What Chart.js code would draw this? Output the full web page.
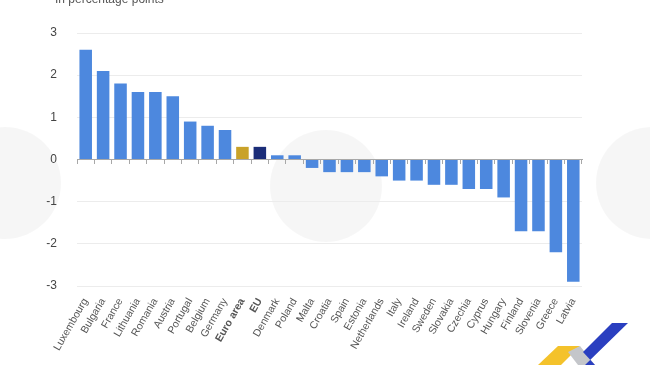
<!DOCTYPE html>
<html>
<head>
<meta charset="utf-8">
<script src="https://cdn.jsdelivr.net/npm/chart.js@4"></script>
<style>
  html, body { margin: 0; padding: 0; background: #fff; }
  #wrap { position: relative; width: 650px; height: 365px; overflow: hidden; }
  #note { position: absolute; left: 55px; top: -8px; font: 12px "Liberation Sans", Arial, sans-serif; color: #555; }
</style>
</head>
<body>
<div id="wrap">
  <canvas id="chart" width="650" height="365"></canvas>
  <div id="note">In percentage points</div>
</div>
<script>
// data
const countries = ['Luxembourg', 'Bulgaria', 'France', 'Lithuania', 'Romania', 'Austria', 'Portugal', 'Belgium',
  'Germany', 'Euro area', 'EU', 'Denmark', 'Poland', 'Malta', 'Croatia', 'Spain', 'Estonia', 'Netherlands',
  'Italy', 'Ireland', 'Sweden', 'Slovakia', 'Czechia', 'Cyprus', 'Hungary', 'Finland', 'Slovenia', 'Greece', 'Latvia'];
const change = [2.6, 2.1, 1.8, 1.6, 1.6, 1.5, 0.9, 0.8, 0.7, 0.3, 0.3, 0.1, 0.1, -0.2, -0.3, -0.3, -0.3, -0.4,
  -0.5, -0.5, -0.6, -0.6, -0.7, -0.7, -0.9, -1.7, -1.7, -2.2, -2.9];
const yTicks = [-3, -2, -1, 0, 1, 2, 3];

const barColors = countries.map(c => c === 'Euro area' ? '#c9a229' : c === 'EU' ? '#1b2d78' : '#4d88de');
const isAggregate = i => countries[i] === 'Euro area' || countries[i] === 'EU';

// faint watermark circles + corner logo, purely decorative
const decor = {
  id: 'decor',
  beforeDraw(chart) {
    const ctx = chart.ctx;
    ctx.save();
    ctx.fillStyle = 'rgba(0,0,0,0.035)';
    [[5, 183], [326, 186], [652, 183]].forEach(p => {
      ctx.beginPath();
      ctx.arc(p[0], p[1], 56, 0, Math.PI * 2);
      ctx.fill();
    });
    ctx.restore();
  },
  afterDraw(chart) {
    const ctx = chart.ctx;
    ctx.save();
    ctx.fillStyle = '#f4c22b';
    ctx.beginPath();
    ctx.moveTo(538, 365); ctx.lineTo(558, 346); ctx.lineTo(580, 346); ctx.lineTo(561, 365);
    ctx.closePath(); ctx.fill();
    ctx.fillStyle = '#c4c6ca';
    ctx.beginPath();
    ctx.moveTo(580, 346); ctx.lineTo(595, 365); ctx.lineTo(578, 365); ctx.lineTo(568, 352);
    ctx.closePath(); ctx.fill();
    ctx.fillStyle = '#2a3fc0';
    ctx.beginPath();
    ctx.moveTo(585, 365); ctx.lineTo(628, 323); ctx.lineTo(612, 323); ctx.lineTo(583, 352); ctx.lineTo(595, 365);
    ctx.closePath(); ctx.fill();
    ctx.restore();
  }
};

new Chart(document.getElementById('chart'), {
  type: 'bar',
  data: {
    labels: countries,
    datasets: [{
      data: change,
      backgroundColor: barColors,
      barPercentage: 0.72,
      categoryPercentage: 1
    }]
  },
  options: {
    responsive: false,
    animation: false,
    layout: { padding: { top: 33, right: 68, bottom: 0, left: 0 } },
    plugins: { legend: { display: false }, tooltip: { enabled: false } },
    scales: {
      x: {
        offset: true,
        grid: { display: false },
        border: { display: false },
        ticks: {
          autoSkip: false,
          minRotation: 60,
          maxRotation: 60,
          padding: 2,
          color: '#555',
          font: ctx => ({ family: '"Liberation Sans", Arial, sans-serif', size: 10.5, weight: isAggregate(ctx.index) ? 'bold' : 'normal' })
        },
        afterFit: s => { s.height = 79; }
      },
      x2: {
        type: 'category',
        labels: countries,
        position: { y: 0 },
        offset: true,
        grid: { offset: true, drawOnChartArea: false, tickLength: 4, color: '#a8a8a8' },
        border: { color: '#a8a8a8' },
        ticks: { display: false }
      },
      y: {
        min: -3,
        max: 3,
        afterBuildTicks: s => { s.ticks = yTicks.map(v => ({ value: v })); },
        grid: { color: '#ececec', drawTicks: false },
        border: { display: false },
        ticks: {
          padding: 20,
          color: '#444',
          font: { family: '"Liberation Sans", Arial, sans-serif', size: 12 }
        },
        afterFit: s => { s.width = 77; }
      }
    }
  },
  plugins: [decor]
});
</script>
</body>
</html>
